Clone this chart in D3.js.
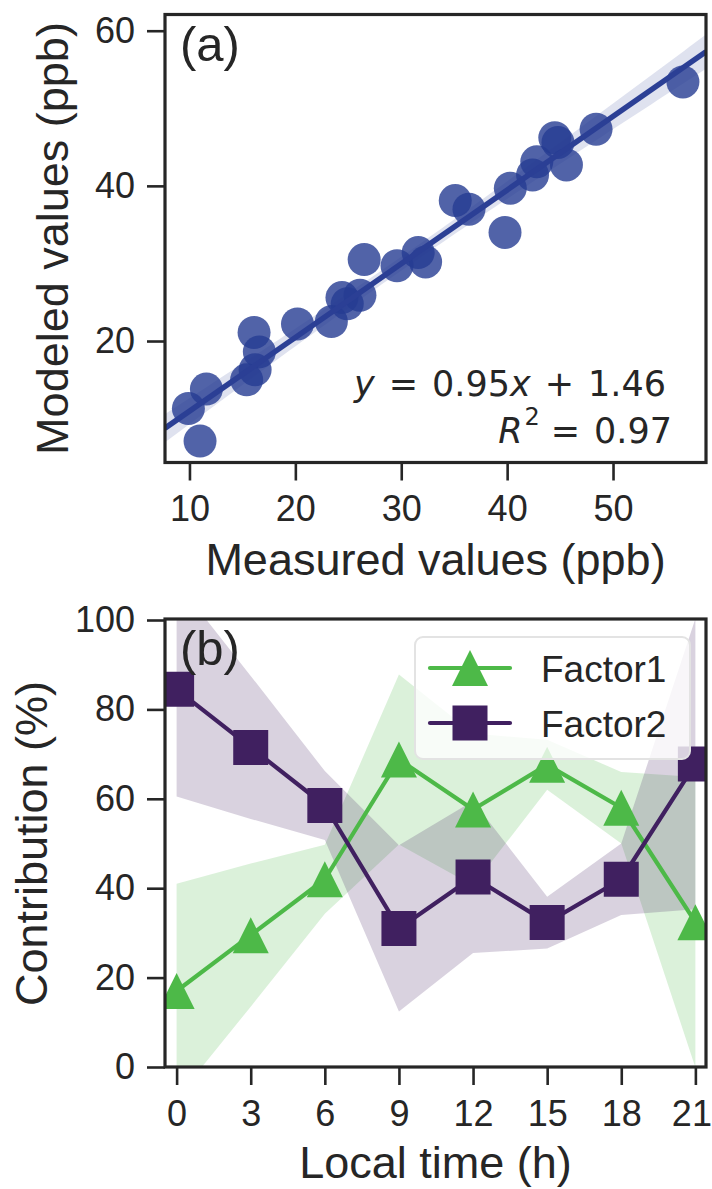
<!DOCTYPE html>
<html>
<head>
<meta charset="utf-8">
<script src="https://cdn.jsdelivr.net/npm/d3@7"></script>
<style>
  html, body { margin: 0; padding: 0; background: #ffffff; }
</style>
</head>
<body>
<svg id="chart" width="712" height="1189"></svg>
<script>
// ---------------- Panel (a) data ----------------
const measured = [56.6, 48.4, 44.5, 44.8, 45.6, 42.8, 42.4, 40.3, 39.8, 35.1, 36.4, 31.6, 32.3, 29.6,
                  26.5, 26.1, 24.4, 24.9, 23.4, 20.2, 16.1, 16.6, 16.2, 15.4, 11.6, 9.9, 11.0];
const modeled  = [53.4, 47.3, 46.2, 45.6, 42.7, 43.1, 41.4, 39.7, 34.0, 38.1, 37.0, 31.4, 30.2, 29.7,
                  30.5, 25.9, 25.6, 24.8, 22.5, 22.2, 21.1, 18.6, 16.3, 15.0, 13.8, 11.3, 7.1];
const fitSlope = 0.95;
const fitIntercept = 1.46;
const fitR2 = 0.97;
const aXTicks = [10, 20, 30, 40, 50];
const aYTicks = [20, 40, 60];
const aXLimits = [7.69, 58.78];
const aYLimits = [4.34, 62.09];

// ---------------- Panel (b) data ----------------
const hours = [0, 3, 6, 9, 12, 15, 18, 21];
const factor1Mean = [17.0, 29.5, 42.0, 68.8, 57.6, 67.6, 58.0, 32.4];
const factor1Std  = [24.0, 16.0, 7.7, 19.0, 17.0, 5.6, 8.0, 32.5];
const factor2Mean = [84.5, 71.5, 58.5, 31.0, 42.5, 32.3, 42.0, 67.8];
const factor2Std  = [24.0, 16.0, 7.7, 18.6, 17.0, 5.8, 8.0, 32.5];
const seriesNames = ["Factor1", "Factor2"];
const bXTicks = [0, 3, 6, 9, 12, 15, 18, 21];
const bYTicks = [0, 20, 40, 60, 80, 100];
const bXLimits = [-0.47, 21.43];
const bYLimits = [0, 100];

// ---------------- styling ----------------
const FONT = "'Liberation Sans', Arial, Helvetica, sans-serif";
const MATH = "'DejaVu Sans', sans-serif";
const INK = "#262626";
const BLUE = "#263c92";
const BLUE_LINE = "#2b3f95";
const GREEN = "#4db948";
const PURPLE = "#402060";

const svg = d3.select("#chart");
svg.append("rect").attr("width", 712).attr("height", 1189).attr("fill", "#ffffff");

function styleAxis(g, fs) {
  g.select(".domain").remove();
  g.selectAll(".tick line").attr("stroke", INK).attr("stroke-width", 2.6);
  g.selectAll(".tick text").attr("fill", INK).attr("font-family", FONT).attr("font-size", fs);
}

// =============== Panel (a) ===============
const A = { left: 165, right: 706, top: 14.5, bottom: 462.5 };
const xA = d3.scaleLinear().domain(aXLimits).range([A.left, A.right]);
const yA = d3.scaleLinear().domain(aYLimits).range([A.bottom, A.top]);

svg.append("clipPath").attr("id", "clipA").append("rect")
  .attr("x", A.left).attr("y", A.top).attr("width", A.right - A.left).attr("height", A.bottom - A.top);

const gA = svg.append("g").attr("clip-path", "url(#clipA)");

// confidence band of the regression (computed from the scatter data)
const n = measured.length;
const xm = d3.mean(measured);
const sxx = d3.sum(measured, v => (v - xm) ** 2);
const sRes = Math.sqrt(d3.sum(measured, (v, i) => (modeled[i] - (fitSlope * v + fitIntercept)) ** 2) / (n - 2));
const tCrit = 2.06;
const bandX = d3.range(0, 101).map(i => aXLimits[0] + (aXLimits[1] - aXLimits[0]) * i / 100);
const ciHalf = x => tCrit * sRes * Math.sqrt(1 / n + (x - xm) ** 2 / sxx);

gA.append("path")
  .datum(bandX)
  .attr("fill", BLUE).attr("fill-opacity", 0.15)
  .attr("d", d3.area()
    .x(d => xA(d))
    .y0(d => yA(fitSlope * d + fitIntercept - ciHalf(d)))
    .y1(d => yA(fitSlope * d + fitIntercept + ciHalf(d))));

// scatter points
gA.selectAll("circle.pt")
  .data(measured.map((m, i) => ({ m, v: modeled[i] })))
  .join("circle")
  .attr("class", "pt")
  .attr("cx", d => xA(d.m))
  .attr("cy", d => yA(d.v))
  .attr("r", 16.5)
  .attr("fill", BLUE)
  .attr("fill-opacity", 0.8);

// regression line
gA.append("line")
  .attr("x1", xA(aXLimits[0])).attr("y1", yA(fitSlope * aXLimits[0] + fitIntercept))
  .attr("x2", xA(aXLimits[1])).attr("y2", yA(fitSlope * aXLimits[1] + fitIntercept))
  .attr("stroke", BLUE_LINE).attr("stroke-width", 5.5);

// axes
const axA_x = svg.append("g").attr("transform", `translate(0,${A.bottom})`)
  .call(d3.axisBottom(xA).tickValues(aXTicks).tickSize(18).tickPadding(15).tickFormat(d3.format("d")));
styleAxis(axA_x, 36);
const axA_y = svg.append("g").attr("transform", `translate(${A.left},0)`)
  .call(d3.axisLeft(yA).tickValues(aYTicks).tickSize(18).tickPadding(12).tickFormat(d3.format("d")));
styleAxis(axA_y, 36);

// frame
svg.append("rect")
  .attr("x", A.left).attr("y", A.top).attr("width", A.right - A.left).attr("height", A.bottom - A.top)
  .attr("fill", "none").attr("stroke", INK).attr("stroke-width", 3.2);

// labels
svg.append("text").attr("x", (A.left + A.right) / 2).attr("y", 575)
  .attr("text-anchor", "middle").attr("font-family", FONT).attr("font-size", 45).attr("fill", INK)
  .text("Measured values (ppb)");
svg.append("text").attr("transform", `translate(68,${(A.top + A.bottom) / 2}) rotate(-90)`)
  .attr("text-anchor", "middle").attr("font-family", FONT).attr("font-size", 45).attr("fill", INK)
  .text("Modeled values (ppb)");
svg.append("text").attr("x", 180).attr("y", 61)
  .attr("font-family", FONT).attr("font-size", 49).attr("fill", INK).text("(a)");

// equation annotation (right-aligned by measuring)
function mathLine(tokens, rightX, baseline, fs) {
  const t = svg.append("text").attr("x", 0).attr("y", baseline)
    .attr("font-family", MATH).attr("font-size", fs).attr("fill", INK);
  tokens.forEach(tok => {
    const sp = t.append("tspan").text(tok.text);
    if (tok.italic) sp.attr("font-style", "italic");
    if (tok.dx) sp.attr("dx", tok.dx);
    if (tok.dy) sp.attr("dy", tok.dy);
    if (tok.size) sp.attr("font-size", tok.size);
  });
  const bb = t.node().getBBox();
  t.attr("x", rightX - (bb.x + bb.width));
}
mathLine([
  { text: "y", italic: true },
  { text: "=", dx: 14 },
  { text: d3.format(".2f")(fitSlope), dx: 14 },
  { text: "x", italic: true },
  { text: "+", dx: 14 },
  { text: d3.format(".2f")(fitIntercept), dx: 14 }
], 666, 396, 35);
mathLine([
  { text: "R", italic: true },
  { text: "2", dx: 2, dy: -18, size: 24 },
  { text: "=", dx: 11, dy: 18 },
  { text: d3.format(".2f")(fitR2), dx: 14 }
], 672, 443, 35);

// =============== Panel (b) ===============
const B = { left: 165, right: 706, top: 619, bottom: 1067 };
const xB = d3.scaleLinear().domain(bXLimits).range([B.left, B.right]);
const yB = d3.scaleLinear().domain(bYLimits).range([B.bottom, 620]);

svg.append("clipPath").attr("id", "clipB").append("rect")
  .attr("x", B.left).attr("y", B.top).attr("width", B.right - B.left).attr("height", B.bottom - B.top);
const gB = svg.append("g").attr("clip-path", "url(#clipB)");

const series = [
  { name: seriesNames[0], mean: factor1Mean, std: factor1Std, color: GREEN, shape: "tri" },
  { name: seriesNames[1], mean: factor2Mean, std: factor2Std, color: PURPLE, shape: "sq" }
];

// bands
series.forEach(s => {
  gB.append("path")
    .datum(hours.map((h, i) => ({ h, m: s.mean[i], sd: s.std[i] })))
    .attr("fill", s.color).attr("fill-opacity", 0.2)
    .attr("d", d3.area().x(d => xB(d.h)).y0(d => yB(d.m - d.sd)).y1(d => yB(d.m + d.sd)));
});

function markerPath(shape) {
  if (shape === "tri") {
    const w = 36, h = 36;
    return `M0,${-h / 2}L${w / 2},${h / 2}L${-w / 2},${h / 2}Z`;
  }
  const a = 35;
  return `M${-a / 2},${-a / 2}H${a / 2}V${a / 2}H${-a / 2}Z`;
}

// lines + markers
series.forEach(s => {
  const pts = hours.map((h, i) => ({ h, m: s.mean[i] }));
  gB.append("path").datum(pts)
    .attr("fill", "none").attr("stroke", s.color).attr("stroke-width", 4.2)
    .attr("stroke-linejoin", "round")
    .attr("d", d3.line().x(d => xB(d.h)).y(d => yB(d.m)));
  gB.selectAll(null).data(pts).join("path")
    .attr("transform", d => `translate(${xB(d.h)},${yB(d.m)})`)
    .attr("d", markerPath(s.shape))
    .attr("fill", s.color);
});

// axes
const axB_x = svg.append("g").attr("transform", `translate(0,${B.bottom})`)
  .call(d3.axisBottom(xB).tickValues(bXTicks).tickSize(18).tickPadding(15).tickFormat(d3.format("d")));
styleAxis(axB_x, 36);
axB_x.selectAll(".tick text").filter(d => d === bXTicks[bXTicks.length - 1]).attr("dx", -4);
const axB_y = svg.append("g").attr("transform", `translate(${B.left},0)`)
  .call(d3.axisLeft(yB).tickValues(bYTicks).tickSize(18).tickPadding(12).tickFormat(d3.format("d")));
styleAxis(axB_y, 36);

// legend
const leg = svg.append("g");
leg.append("rect").attr("x", 415).attr("y", 637).attr("width", 275).attr("height", 122)
  .attr("rx", 8).attr("fill", "#ffffff").attr("fill-opacity", 0.8)
  .attr("stroke", "#e3e3e3").attr("stroke-width", 2);
series.forEach((s, i) => {
  const yy = 668 + i * 55;
  leg.append("line").attr("x1", 430).attr("x2", 510).attr("y1", yy).attr("y2", yy)
    .attr("stroke", s.color).attr("stroke-width", 4.2).attr("stroke-linecap", "round");
  leg.append("path").attr("transform", `translate(470,${yy})`).attr("d", markerPath(s.shape)).attr("fill", s.color);
  leg.append("text").attr("x", 541).attr("y", yy + 13.5)
    .attr("font-family", FONT).attr("font-size", 37).attr("fill", INK).text(s.name);
});

// frame
svg.append("rect")
  .attr("x", B.left).attr("y", B.top).attr("width", B.right - B.left).attr("height", B.bottom - B.top)
  .attr("fill", "none").attr("stroke", INK).attr("stroke-width", 3.2);

// labels
svg.append("text").attr("x", (B.left + B.right) / 2).attr("y", 1178)
  .attr("text-anchor", "middle").attr("font-family", FONT).attr("font-size", 45).attr("fill", INK)
  .text("Local time (h)");
svg.append("text").attr("transform", `translate(47,${(620 + B.bottom) / 2}) rotate(-90)`)
  .attr("text-anchor", "middle").attr("font-family", FONT).attr("font-size", 45).attr("fill", INK)
  .text("Contribution (%)");
svg.append("text").attr("x", 180).attr("y", 665)
  .attr("font-family", FONT).attr("font-size", 49).attr("fill", INK).text("(b)");
</script>
</body>
</html>
